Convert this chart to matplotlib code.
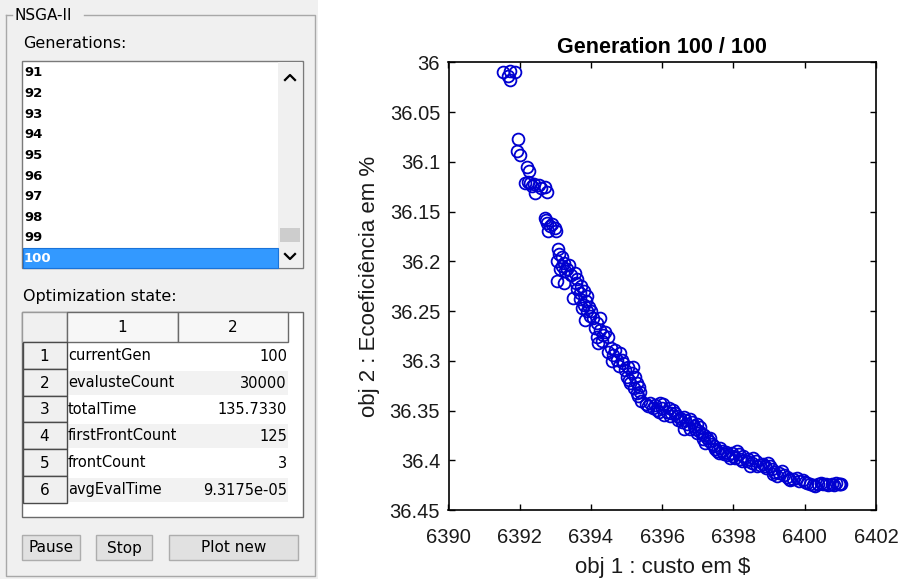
import matplotlib
matplotlib.use('Agg')
import matplotlib.pyplot as plt
import matplotlib.patches as mpatches

plt.rcParams['font.family'] = ['Liberation Sans', 'DejaVu Sans']

# pareto front of generation 100 (obj1 = cost, obj2 = eco-efficiency)
custo = [6391.53, 6391.72, 6391.88, 6391.73, 6391.66,
         6391.94, 6391.93, 6392.02, 6392.20, 6392.25,
         6392.15, 6392.28, 6392.40, 6392.55, 6392.70, 6392.43, 6392.76, 6392.22, 6392.35,
         6392.70, 6392.76, 6392.85, 6392.98, 6393.03, 6392.80, 6392.74,
         6393.08, 6393.04, 6393.10, 6393.23, 6393.37, 6393.13, 6393.32, 6393.18,
         6393.04, 6393.23, 6393.55, 6393.62, 6393.72, 6393.79, 6393.50, 6393.70, 6393.88, 6393.62,
         6393.74, 6393.88, 6393.98, 6393.84, 6394.07, 6394.26, 6393.80, 6393.95,
         6394.12, 6394.26, 6394.35, 6394.16, 6394.49, 6394.30, 6394.20,
         6394.49, 6394.63, 6394.82, 6394.73, 6394.87, 6394.91, 6394.60, 6394.78,
         6395.05, 6395.19, 6395.01, 6395.24, 6395.10, 6395.29, 6395.38, 6395.29, 6395.15, 6395.35,
         6395.55, 6395.66, 6395.80, 6395.95, 6396.03, 6395.90, 6396.13, 6396.31, 6396.05,
         6396.22, 6396.41, 6396.50, 6396.60, 6396.78, 6396.70, 6396.88, 6396.97, 6397.06,
         6396.60, 6396.78, 6396.97, 6397.11, 6397.25, 6397.20, 6397.39, 6397.15, 6397.30,
         6397.53, 6397.72, 6397.91, 6398.09, 6398.19, 6398.37, 6398.56, 6398.47, 6398.66,
         6397.62, 6397.80, 6398.00, 6398.28,
         6398.84, 6398.98, 6399.08, 6399.22, 6399.36, 6399.50, 6399.59, 6399.78, 6399.96,
         6400.06, 6400.24, 6400.52, 6400.76, 6400.99, 6400.38, 6400.65, 6400.88, 6399.15, 6398.92,
         6395.60, 6395.75, 6395.85, 6396.00, 6396.18, 6396.25, 6396.35, 6396.45, 6396.55,
         6396.65, 6396.83, 6396.92, 6397.02, 6397.18, 6397.35, 6397.45, 6397.48, 6397.58,
         6397.67, 6397.85, 6397.95, 6398.05, 6398.15, 6398.25, 6398.42, 6398.52, 6398.62,
         6398.75, 6398.88, 6399.02, 6399.12, 6399.28, 6399.42, 6399.55, 6399.68, 6399.85,
         6400.00, 6400.15, 6400.30, 6400.45, 6400.60, 6400.82, 6400.95, 6401.02,
         6393.45, 6393.58, 6393.68, 6393.85, 6394.00, 6394.18, 6394.40, 6394.55, 6394.68,
         6394.95, 6395.08, 6395.20, 6395.33, 6395.40, 6392.60, 6392.90, 6393.20, 6393.28]
ecoef = [36.010, 36.009, 36.010, 36.018, 36.014,
         36.077, 36.089, 36.093, 36.105, 36.109,
         36.121, 36.121, 36.122, 36.123, 36.125, 36.131, 36.130, 36.120, 36.124,
         36.157, 36.162, 36.165, 36.167, 36.170, 36.170, 36.159,
         36.188, 36.200, 36.193, 36.202, 36.204, 36.208, 36.208, 36.205,
         36.220, 36.222, 36.212, 36.218, 36.225, 36.230, 36.237, 36.238, 36.235, 36.228,
         36.247, 36.250, 36.255, 36.259, 36.257, 36.257, 36.244, 36.246,
         36.267, 36.269, 36.274, 36.276, 36.276, 36.280, 36.282,
         36.291, 36.294, 36.292, 36.299, 36.299, 36.302, 36.300, 36.305,
         36.306, 36.306, 36.316, 36.316, 36.322, 36.322, 36.331, 36.332, 36.312, 36.326,
         36.343, 36.342, 36.344, 36.342, 36.343, 36.351, 36.351, 36.349, 36.355,
         36.356, 36.356, 36.358, 36.357, 36.359, 36.364, 36.366, 36.364, 36.367,
         36.369, 36.369, 36.373, 36.374, 36.378, 36.383, 36.384, 36.379, 36.381,
         36.391, 36.394, 36.398, 36.391, 36.399, 36.401, 36.398, 36.406, 36.406,
         36.388, 36.392, 36.396, 36.396,
         36.404, 36.403, 36.409, 36.416, 36.411, 36.417, 36.420, 36.418, 36.420,
         36.423, 36.425, 36.424, 36.424, 36.424, 36.424, 36.425, 36.423, 36.412, 36.408,
         36.345, 36.347, 36.349, 36.347, 36.347, 36.352, 36.353, 36.360, 36.362,
         36.360, 36.362, 36.369, 36.371, 36.375, 36.378, 36.386, 36.389, 36.393,
         36.391, 36.395, 36.393, 36.398, 36.394, 36.401, 36.399, 36.403, 36.401,
         36.405, 36.406, 36.406, 36.414, 36.413, 36.415, 36.419, 36.419, 36.421,
         36.422, 36.424, 36.426, 36.423, 36.424, 36.425, 36.424, 36.424,
         36.214, 36.222, 36.232, 36.240, 36.250, 36.262, 36.271, 36.287, 36.289,
         36.309, 36.319, 36.327, 36.335, 36.340, 36.126, 36.163, 36.196, 36.210]

xticks = [6390, 6392, 6394, 6396, 6398, 6400, 6402]
yticks = [36, 36.05, 36.1, 36.15, 36.2, 36.25, 36.3, 36.35, 36.4, 36.45]
ytick_labels = ['36', '36.05', '36.1', '36.15', '36.2', '36.25', '36.3', '36.35', '36.4', '36.45']

generations = [str(g) for g in range(91, 101)]
state_names = ['currentGen', 'evalusteCount', 'totalTime', 'firstFrontCount', 'frontCount', 'avgEvalTime']
state_values = ['100', '30000', '135.7330', '125', '3', '9.3175e-05']
buttons = ['Pause', 'Stop', 'Plot new']

W, H = 905, 579
fig = plt.figure(figsize=(W / 100, H / 100), dpi=100)
fig.patch.set_facecolor('white')

# --- GUI panel on the left, drawn in pixel coords ---
gui = fig.add_axes([0, 0, 1, 1], zorder=0)
gui.set_xlim(0, W)
gui.set_ylim(H, 0)
gui.axis('off')
ui_font = ['DejaVu Sans']

def box(x0, y0, x1, y1, fc, ec='none', lw=1.0, z=1):
    gui.add_patch(mpatches.Rectangle((x0, y0), x1 - x0, y1 - y0, facecolor=fc,
                                     edgecolor=ec, linewidth=lw, zorder=z))

def label(x, y, s, size=10.5, **kw):
    kw.setdefault('ha', 'left')
    kw.setdefault('va', 'center')
    kw.setdefault('zorder', 5)
    gui.text(x, y, s, fontsize=size, family=ui_font, **kw)

box(0, 0, 318, H, '#f0f0f0')
# etched frame
frame_c = '#a8a8a8'
gui.plot([6, 12], [15, 15], color=frame_c, lw=1, zorder=2)
gui.plot([84, 315, 315, 6, 6], [15, 15, 576, 576, 15], color=frame_c, lw=1, zorder=2)
label(14, 16, 'NSGA-II', 11)

label(23, 43, 'Generations:', 11.5)

# listbox
box(22, 61, 303, 268, 'white', '#7a7a7a', 1.0, z=2)
box(278, 62, 302, 267, '#f0f0f0', z=3)
box(280, 228, 300, 242, '#cdcdcd', z=4)
gui.plot([285, 290, 295], [80, 75, 80], color='black', lw=1.6, zorder=4)
gui.plot([285, 290, 295], [254, 259, 254], color='black', lw=1.6, zorder=4)
for i, g in enumerate(generations):
    yy = 73 + i * 20.6
    col = 'black'
    if i == len(generations) - 1:
        box(23, 248, 278, 267.5, '#3399ff', '#1a73d9', 0.8, z=3)
        col = 'white'
    label(24, yy, g, 9.5, fontweight='bold', color=col)

label(23, 296, 'Optimization state:', 11.5)

# table
tx0, tx1, tx2, tx3 = 22, 67, 178, 288
ty0, hdr, rh = 312, 342, 26.8
box(tx0, ty0, 303, 517, 'white', '#6a6a6a', 1.0, z=2)
box(tx0, ty0, tx1, hdr, '#f0f0f0', '#9a9a9a', 1.0, z=3)
box(tx1, ty0, tx2, hdr, '#f7f7f7', '#6a6a6a', 1.0, z=3)
box(tx2, ty0, tx3, hdr, '#f7f7f7', '#6a6a6a', 1.0, z=3)
label((tx1 + tx2) / 2, (ty0 + hdr) / 2 + 1, '1', 11, ha='center')
label((tx2 + tx3) / 2, (ty0 + hdr) / 2 + 1, '2', 11, ha='center')
for i, (nm, val) in enumerate(zip(state_names, state_values)):
    y0 = hdr + i * rh
    fc = 'white' if i % 2 == 0 else '#f2f2f2'
    box(tx1, y0 + 2, tx3, y0 + rh - 1, fc, z=3)
    box(tx0 + 1, y0, tx1, y0 + rh, '#f0f0f0', '#4a4a4a', 1.0, z=3)
    yc = y0 + rh / 2
    label((tx0 + tx1) / 2, yc + 1, str(i + 1), 11, ha='center')
    label(tx1 + 1, yc, nm, 10.5)
    label(tx3 - 1, yc + 1, val, 10.5, ha='right')

# buttons
for (bx0, bx1), lbl in zip([(22, 80), (96, 152), (169, 298)], buttons):
    box(bx0, 535, bx1, 560, '#e1e1e1', '#adadad', 1.0, z=3)
    label((bx0 + bx1) / 2, 548, lbl, 11, ha='center')

# --- scatter plot ---
ax = fig.add_axes([448.5 / W, 1 - 510 / H, (876 - 448.5) / W, (510 - 62.3) / H], zorder=2)
ax.plot(custo, ecoef, 'o', mfc='none', mec='#0000d0', ms=8.5, mew=1.3)
ax.set_xlim(6390, 6402)
ax.set_ylim(36.45, 36)
ax.set_xticks(xticks)
ax.set_xticklabels([str(t) for t in xticks])
ax.set_yticks(yticks)
ax.set_yticklabels(ytick_labels)
ax.tick_params(axis='both', direction='in', top=True, right=True, length=4, width=1,
               labelsize=14.5, labelcolor='#1a1a1a')
ax.tick_params(axis='x', pad=13)
ax.tick_params(axis='y', pad=6)
for s in ax.spines.values():
    s.set_linewidth(1.2)
    s.set_color('black')
ax.set_title('Generation 100 / 100', fontsize=15.5, fontweight='bold', pad=7)
ax.set_xlabel('obj 1 : custo em $', fontsize=16, color='#1a1a1a', labelpad=7)
ax.set_ylabel('obj 2 : Ecoeficiência em %', fontsize=16, color='#1a1a1a', labelpad=7)

fig.savefig('out.png', dpi=100)
